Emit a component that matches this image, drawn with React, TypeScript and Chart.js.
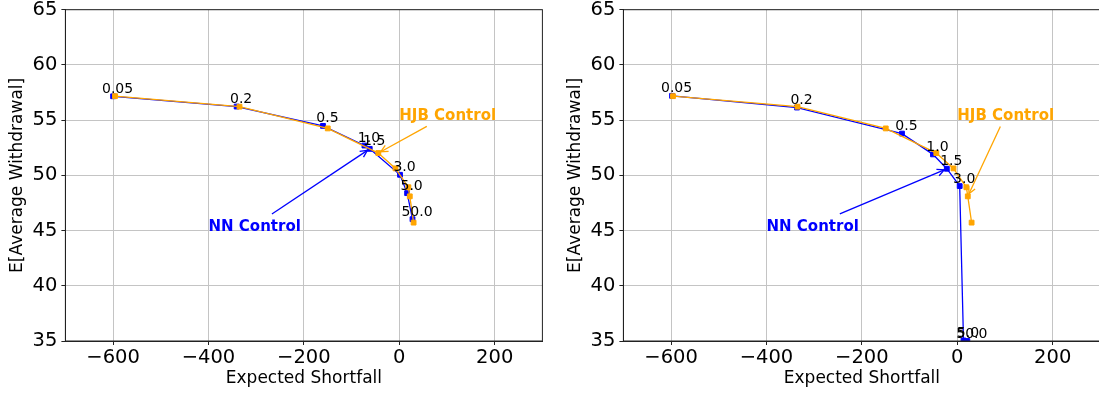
import React, { useEffect, useRef } from "react";
import { Chart, registerables } from "chart.js";

Chart.register(...registerables);

// ---- data ----
const POINT_LABELS = ["0.05", "0.2", "0.5", "1.0", "1.5", "3.0", "5.0", "50.0"];
const HJB_X = [-596, -335, -150, -44, -8, 19, 22, 30];
const HJB_Y = [57.17, 56.22, 54.25, 52.02, 50.63, 48.92, 48.1, 45.72];
const NN_LEFT_X = [-600, -341, -160, -73, -62, 1.5, 16.4, 27.7];
const NN_LEFT_Y = [57.16, 56.23, 54.48, 52.7, 52.4, 50.05, 48.39, 46.03];
const NN_RIGHT_X = [-598, -336, -116, -51, -22, 5, 13, 21];
const NN_RIGHT_Y = [57.2, 56.14, 53.78, 51.9, 50.6, 49.03, 35.05, 35.0];
const X_TICKS = [-600, -400, -200, 0, 200];
const Y_TICKS = [35, 40, 45, 50, 55, 60, 65];
const X_MIN = -700;
const X_MAX = 300;
const Y_MIN = 35;
const Y_MAX = 65;
const X_TITLE = "Expected Shortfall";
const Y_TITLE = "E[Average Withdrawal]";
const HJB_TEXT = "HJB Control";
const NN_TEXT = "NN Control";
const HJB_TEXT_POS = [0, 55];
const NN_TEXT_POS = [-400, 45];

const FONT = "'DejaVu Sans', sans-serif";
const BLUE = "#0000ff";
const ORANGE = "#ffa500";

type PanelProps = {
  nnX: number[];
  nnY: number[];
  hjbTarget: number;
  nnTarget: number;
  left: number;
};

function drawArrowAnn(
  chart: any,
  text: string,
  pos: number[],
  target: number[],
  color: string
) {
  const ctx = chart.ctx;
  const xs = chart.scales.x;
  const ys = chart.scales.y;
  const size = 15;
  ctx.save();
  ctx.font = `bold ${size}px ${FONT}`;
  ctx.fillStyle = color;
  ctx.textAlign = "left";
  ctx.textBaseline = "alphabetic";
  const tx = xs.getPixelForValue(pos[0]);
  const ty = ys.getPixelForValue(pos[1]);
  ctx.fillText(text, tx, ty);
  const w = ctx.measureText(text).width;
  const top = ty - 0.93 * size;
  const bot = ty + 0.24 * size;
  const cx = tx + w / 2;
  const cy = (top + bot) / 2;
  const pad = 2.7;
  const hw = w / 2 + pad;
  const hh = (bot - top) / 2 + pad;
  const px = xs.getPixelForValue(target[0]);
  const py = ys.getPixelForValue(target[1]);
  const dx = px - cx;
  const dy = py - cy;
  const t = Math.min(
    dx !== 0 ? hw / Math.abs(dx) : Infinity,
    dy !== 0 ? hh / Math.abs(dy) : Infinity
  );
  const sx = cx + dx * t;
  const sy = cy + dy * t;
  const len = Math.hypot(px - sx, py - sy);
  const ux = (px - sx) / len;
  const uy = (py - sy) / len;
  const shrink = 2.8;
  const ex = px - ux * shrink;
  const ey = py - uy * shrink;
  ctx.strokeStyle = color;
  ctx.lineWidth = 1.3;
  ctx.beginPath();
  ctx.moveTo(sx, sy);
  ctx.lineTo(ex, ey);
  ctx.stroke();
  const L = 7;
  const W = 3.5;
  ctx.beginPath();
  ctx.moveTo(ex - ux * L - uy * W, ey - uy * L + ux * W);
  ctx.lineTo(ex, ey);
  ctx.lineTo(ex - ux * L + uy * W, ey - uy * L - ux * W);
  ctx.stroke();
  ctx.restore();
}

function Panel({ nnX, nnY, hjbTarget, nnTarget, left }: PanelProps) {
  const ref = useRef<HTMLCanvasElement | null>(null);
  useEffect(() => {
    if (!ref.current) return;
    const hjbData = HJB_X.map((x, i) => ({ x, y: HJB_Y[i] }));
    const nnData = nnX.map((x, i) => ({ x, y: nnY[i] }));

    const overlay = {
      id: "overlay",
      afterDatasetsDraw(chart: any) {
        const ctx = chart.ctx;
        const a = chart.chartArea;
        const xs = chart.scales.x;
        const ys = chart.scales.y;
        // frame
        ctx.save();
        ctx.strokeStyle = "#222";
        ctx.lineWidth = 1;
        ctx.strokeRect(a.left, a.top, a.right - a.left, a.bottom - a.top);
        // point labels at NN points
        ctx.font = `14px ${FONT}`;
        ctx.fillStyle = "#000";
        ctx.textAlign = "center";
        ctx.textBaseline = "alphabetic";
        POINT_LABELS.forEach((lab, i) => {
          const px = xs.getPixelForValue(nnX[i]);
          const py = ys.getPixelForValue(nnY[i]);
          ctx.fillText(lab, px + 4.5, py - 3.5);
        });
        ctx.restore();
        drawArrowAnn(chart, HJB_TEXT, HJB_TEXT_POS, [HJB_X[hjbTarget], HJB_Y[hjbTarget]], ORANGE);
        drawArrowAnn(chart, NN_TEXT, NN_TEXT_POS, [nnX[nnTarget], nnY[nnTarget]], BLUE);
      },
    };

    const fmt = (v: any) => String(v).replace("-", "\u2212");

    const chart = new Chart(ref.current, {
      type: "scatter",
      data: {
        datasets: [
          {
            data: hjbData,
            showLine: true,
            borderColor: ORANGE,
            backgroundColor: ORANGE,
            borderWidth: 1.3,
            pointStyle: "rect",
            pointRadius: 3.4,
            pointBorderWidth: 1,
            pointBorderColor: ORANGE,
            pointBackgroundColor: ORANGE,
            tension: 0,
            clip: 0,
          },
          {
            data: nnData,
            showLine: true,
            borderColor: BLUE,
            backgroundColor: BLUE,
            borderWidth: 1.3,
            pointStyle: "rect",
            pointRadius: 3.4,
            pointBorderWidth: 1,
            pointBorderColor: BLUE,
            pointBackgroundColor: BLUE,
            tension: 0,
            clip: 0,
          },
        ],
      },
      options: {
        animation: false,
        responsive: false,
        maintainAspectRatio: false,
        events: [],
        layout: { padding: { top: 9.7, right: 17.6, bottom: 0, left: 0 } },
        plugins: { legend: { display: false }, tooltip: { enabled: false } },
        scales: {
          x: {
            type: "linear",
            min: X_MIN,
            max: X_MAX,
            afterBuildTicks: (s: any) => {
              s.ticks = X_TICKS.map((v) => ({ value: v }));
            },
            afterFit: (s: any) => {
              s.height = 55;
              s.paddingLeft = 0;
              s.paddingRight = 0;
            },
            ticks: {
              font: { family: FONT, size: 19.5 },
              color: "#000",
              padding: 1,
              maxRotation: 0,
              autoSkip: false,
              callback: (v: any) => fmt(v),
            },
            grid: { color: "#c4c4c4", lineWidth: 1, tickLength: 4, tickColor: "#222" },
            border: { color: "#222", width: 1 },
            title: {
              display: true,
              text: X_TITLE,
              font: { family: FONT, size: 17 },
              color: "#000",
              padding: { top: 0, bottom: 7 },
            },
          },
          y: {
            type: "linear",
            min: Y_MIN,
            max: Y_MAX,
            afterBuildTicks: (s: any) => {
              s.ticks = Y_TICKS.map((v) => ({ value: v }));
            },
            afterFit: (s: any) => {
              s.width = 65.4;
              s.paddingTop = 0;
              s.paddingBottom = 0;
            },
            ticks: {
              font: { family: FONT, size: 19.5 },
              color: "#000",
              padding: 4,
              autoSkip: false,
              callback: (v: any) => fmt(v),
            },
            grid: { color: "#c4c4c4", lineWidth: 1, tickLength: 4, tickColor: "#222" },
            border: { color: "#222", width: 1 },
            title: {
              display: true,
              text: Y_TITLE,
              font: { family: FONT, size: 17 },
              color: "#000",
              padding: { top: 7.8, bottom: 0 },
            },
          },
        },
      },
      plugins: [overlay],
    } as any);
    return () => chart.destroy();
  }, [nnX, nnY, hjbTarget, nnTarget]);

  return (
    <canvas
      ref={ref}
      width={560}
      height={396}
      style={{ position: "absolute", left, top: 0, width: 560, height: 396 }}
    />
  );
}

export default function App() {
  return (
    <div
      style={{
        position: "fixed",
        left: 0,
        top: 0,
        width: 1099,
        height: 396,
        overflow: "hidden",
        background: "#fff",
      }}
    >
      <Panel nnX={NN_LEFT_X} nnY={NN_LEFT_Y} hjbTarget={3} nnTarget={4} left={0} />
      <Panel nnX={NN_RIGHT_X} nnY={NN_RIGHT_Y} hjbTarget={6} nnTarget={4} left={557.5} />
    </div>
  );
}
